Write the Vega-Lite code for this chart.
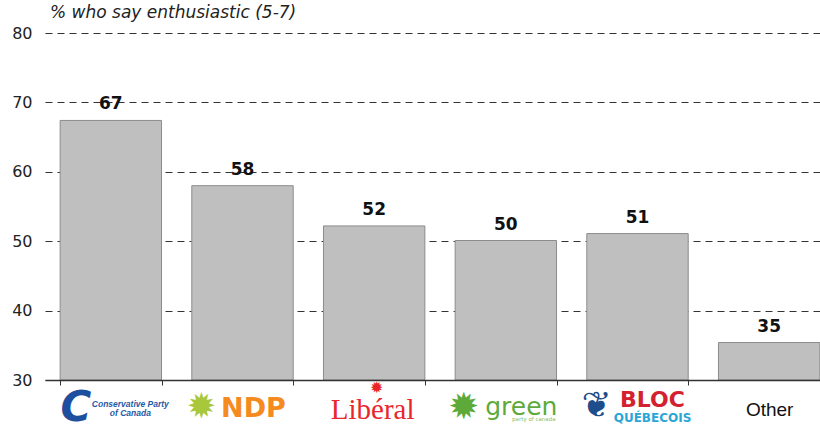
{
  "$schema": "https://vega.github.io/schema/vega-lite/v6.json",
  "width": 775,
  "height": 347,
  "autosize": {"type": "none"},
  "padding": {"left": 45, "top": 33, "right": 0, "bottom": 47},
  "background": "white",
  "title": {
    "text": "% who say enthusiastic (5-7)",
    "anchor": "start",
    "frame": "group",
    "orient": "top",
    "baseline": "alphabetic",
    "offset": -10,
    "dx": 5,
    "font": "DejaVu Sans",
    "fontSize": 17,
    "fontStyle": "italic",
    "fontWeight": "normal",
    "color": "#222222"
  },
  "config": {"view": {"stroke": null}},
  "datasets": {
    "main": [
      {"party": "Conservative Party of Canada", "pct": 67.4},
      {"party": "NDP", "pct": 58.0},
      {"party": "Libéral", "pct": 52.2},
      {"party": "green", "pct": 50.1},
      {"party": "Bloc Québécois", "pct": 51.1},
      {"party": "Other", "pct": 35.4}
    ],
    "bloc": [{"party": "Bloc Québécois", "sub": "QUÉBECOIS", "base": 30}],
    "greensub": [{"party": "green", "sub": "party of canada", "base": 30}],
    "cpc": [{"party": "Conservative Party of Canada", "sub": "C", "base": 30}],
    "ndp": [{"party": "NDP", "sub": "✹", "base": 30}],
    "lib": [{"party": "Libéral", "sub": "✹", "base": 30}],
    "grn": [{"party": "green", "sub": "✹", "base": 30}],
    "bq": [{"party": "Bloc Québécois", "sub": "❦", "base": 30}]
  },
  "layer": [
    {
      "data": {"name": "main"},
      "mark": {"type": "bar", "fill": "#BFBFBF", "stroke": "#8C8C8C", "strokeWidth": 1},
      "encoding": {
        "x": {
          "field": "party",
          "type": "nominal",
          "sort": null,
          "scale": {
            "domain": ["Conservative Party of Canada", "NDP", "Libéral", "green", "Bloc Québécois", "Other"],
            "range": [0, 790], "paddingInner": 0.23, "paddingOuter": 0.115
          },
          "axis": {
            "title": null,
            "zindex": 1,
            "labelAngle": 0,
            "domainColor": "#333333",
            "domainWidth": 1.5,
            "tickColor": "#333333",
            "tickSize": 5,
            "tickBand": "extent",
            "labelBaseline": "middle",
            "labelLimit": 200,
            "labelLineHeight": 9,
            "labelExpr": "datum.value == 'Conservative Party of Canada' ? ['Conservative Party', 'of Canada'] : datum.value == 'Bloc Québécois' ? 'BLOC' : datum.value",
            "labelPadding": {
              "condition": [
                {"test": "datum.value == 'Conservative Party of Canada'", "value": 18},
                {"test": "datum.value == 'NDP'", "value": 23.5},
                {"test": "datum.value == 'Libéral'", "value": 24.5},
                {"test": "datum.value == 'green'", "value": 21.5},
                {"test": "datum.value == 'Bloc Québécois'", "value": 14.5}
              ],
              "value": 24
            },
            "labelOffset": {
              "condition": [
                {"test": "datum.value == 'Conservative Party of Canada'", "value": 19},
                {"test": "datum.value == 'NDP'", "value": 10.5},
                {"test": "datum.value == 'Libéral'", "value": -2},
                {"test": "datum.value == 'green'", "value": 15},
                {"test": "datum.value == 'Bloc Québécois'", "value": 14.5}
              ],
              "value": 0
            },
            "labelColor": {
              "condition": [
                {"test": "datum.value == 'Conservative Party of Canada'", "value": "#1F5AA6"},
                {"test": "datum.value == 'NDP'", "value": "#F58A1F"},
                {"test": "datum.value == 'Libéral'", "value": "#E8262B"},
                {"test": "datum.value == 'green'", "value": "#5DAA3A"},
                {"test": "datum.value == 'Bloc Québécois'", "value": "#D3212F"}
              ],
              "value": "#111111"
            },
            "labelFontSize": {
              "condition": [
                {"test": "datum.value == 'Conservative Party of Canada'", "value": 8.5},
                {"test": "datum.value == 'NDP'", "value": 27},
                {"test": "datum.value == 'Libéral'", "value": 29},
                {"test": "datum.value == 'green'", "value": 25},
                {"test": "datum.value == 'Bloc Québécois'", "value": 22}
              ],
              "value": 19
            },
            "labelFont": {
              "condition": [
                {"test": "datum.value == 'Libéral'", "value": "Liberation Serif"},
                {"test": "datum.value == 'Conservative Party of Canada' || datum.value == 'Other'", "value": "Liberation Sans"}
              ],
              "value": "DejaVu Sans"
            },
            "labelFontWeight": {
              "condition": {"test": "datum.value == 'Conservative Party of Canada' || datum.value == 'NDP' || datum.value == 'Bloc Québécois'", "value": "bold"},
              "value": "normal"
            },
            "labelFontStyle": {
              "condition": {"test": "datum.value == 'Conservative Party of Canada'", "value": "italic"},
              "value": "normal"
            }
          }
        },
        "y": {
          "field": "pct",
          "type": "quantitative",
          "scale": {"domain": [30, 80], "nice": false, "zero": false},
          "axis": {
            "title": null,
            "values": [30, 40, 50, 60, 70, 80],
            "domain": false,
            "ticks": false,
            "labelPadding": 13,
            "labelFont": "DejaVu Sans",
            "labelFontSize": 16,
            "labelColor": "#222222",
            "gridColor": "#333333",
            "gridDash": [7, 5],
            "gridWidth": 1,
            "gridOpacity": 1
          }
        },
        "y2": {"datum": 30}
      }
    },
    {
      "data": {"name": "main"},
      "mark": {"type": "text", "baseline": "alphabetic", "dy": -11, "font": "DejaVu Sans", "fontSize": 17, "fontWeight": "bold", "color": "#111111"},
      "encoding": {
        "x": {"field": "party", "type": "nominal"},
        "y": {"field": "pct", "type": "quantitative"},
        "text": {"field": "pct", "type": "quantitative", "format": ".0f"}
      }
    },
    {
      "data": {"name": "bloc"},
      "mark": {"type": "text", "baseline": "middle", "dx": 15, "dy": 38, "font": "DejaVu Sans", "fontSize": 12, "fontWeight": "bold", "color": "#2AA6D6"},
      "encoding": {"x": {"field": "party", "type": "nominal"}, "y": {"field": "base", "type": "quantitative"}, "text": {"field": "sub"}}
    },
    {
      "data": {"name": "greensub"},
      "mark": {"type": "text", "baseline": "middle", "dx": 28, "dy": 39, "font": "DejaVu Sans", "fontSize": 5.5, "color": "#8DBF6A"},
      "encoding": {"x": {"field": "party", "type": "nominal"}, "y": {"field": "base", "type": "quantitative"}, "text": {"field": "sub"}}
    },
    {
      "data": {"name": "cpc"},
      "mark": {"type": "text", "baseline": "middle", "dx": -35, "dy": 28, "font": "DejaVu Sans", "fontSize": 42, "fontWeight": "bold", "fontStyle": "italic", "color": "#1E4F9E"},
      "encoding": {"x": {"field": "party", "type": "nominal"}, "y": {"field": "base", "type": "quantitative"}, "text": {"field": "sub"}}
    },
    {
      "data": {"name": "ndp"},
      "mark": {"type": "text", "baseline": "middle", "dx": -41, "dy": 27, "font": "DejaVu Sans", "fontSize": 35, "color": "#A8C73B"},
      "encoding": {"x": {"field": "party", "type": "nominal"}, "y": {"field": "base", "type": "quantitative"}, "text": {"field": "sub"}}
    },
    {
      "data": {"name": "lib"},
      "mark": {"type": "text", "baseline": "middle", "dx": 2.5, "dy": 8, "font": "DejaVu Sans", "fontSize": 16, "color": "#E8262B"},
      "encoding": {"x": {"field": "party", "type": "nominal"}, "y": {"field": "base", "type": "quantitative"}, "text": {"field": "sub"}}
    },
    {
      "data": {"name": "grn"},
      "mark": {"type": "text", "baseline": "middle", "dx": -42, "dy": 28, "font": "DejaVu Sans", "fontSize": 37, "color": "#5DAA3A"},
      "encoding": {"x": {"field": "party", "type": "nominal"}, "y": {"field": "base", "type": "quantitative"}, "text": {"field": "sub"}}
    },
    {
      "data": {"name": "bq"},
      "mark": {"type": "text", "baseline": "middle", "dx": -41, "dy": 26, "font": "DejaVu Sans", "fontSize": 36, "color": "#1E4D8C"},
      "encoding": {"x": {"field": "party", "type": "nominal"}, "y": {"field": "base", "type": "quantitative"}, "text": {"field": "sub"}}
    }
  ]
}
